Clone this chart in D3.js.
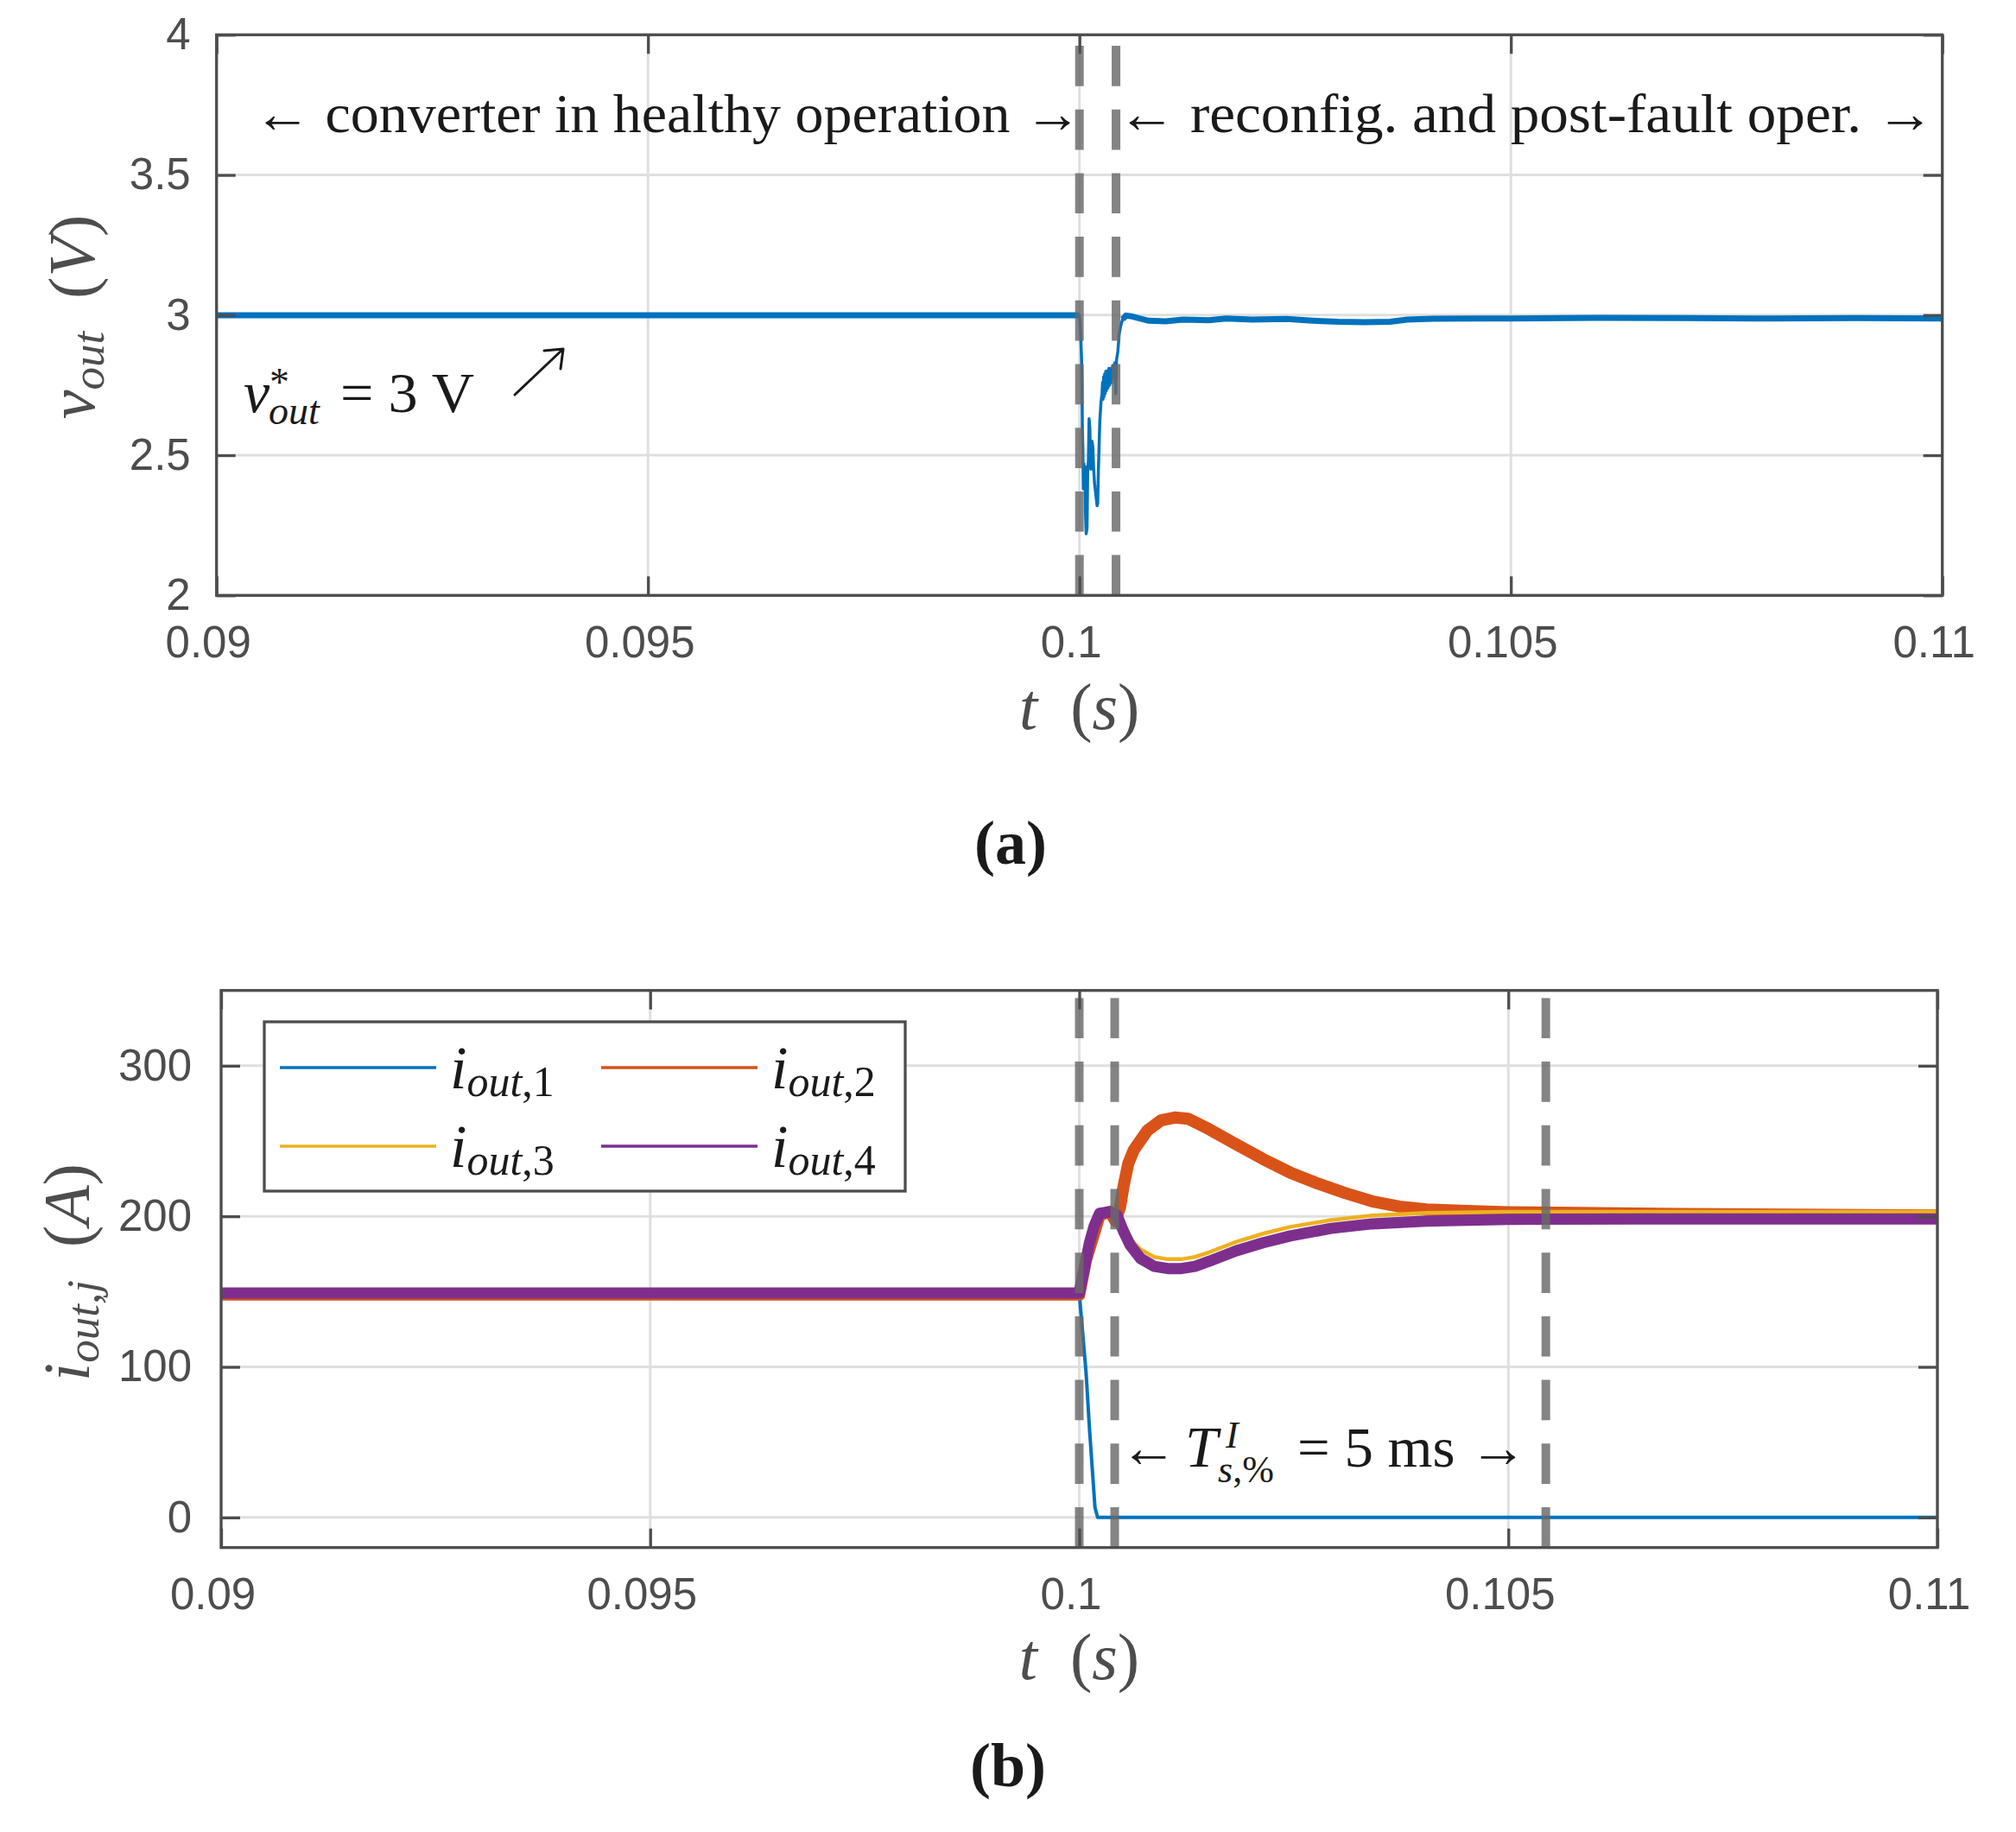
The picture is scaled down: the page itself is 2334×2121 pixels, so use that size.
<!DOCTYPE html>
<html>
<head>
<meta charset="utf-8">
<script src="https://cdn.jsdelivr.net/npm/d3@7/dist/d3.min.js"></script>
<style>
  body { margin: 0; background: #fff; }
  text { font-family: "Liberation Sans", Arial, sans-serif; }
  .tex { font-family: "Liberation Serif", "DejaVu Serif", serif; fill: #1a1a1a; }
</style>
</head>
<body>
<div id="canvas"></div>
<script>
// tick values
var xTicks = [0.09, 0.095, 0.1, 0.105, 0.11];
var vTicks = [2, 2.5, 3, 3.5, 4];
var iTicks = [0, 100, 200, 300];

// (a) output voltage, [t (s), v (V)]
var vOut = [
  [0.09, 2.999], [0.1, 2.999], [0.100010, 2.96], [0.100018, 2.90], [0.100025, 2.84],
  [0.100030, 2.75], [0.100034, 2.60], [0.100040, 2.52], [0.100045, 2.38], [0.100052, 2.47],
  [0.100058, 2.40], [0.100064, 2.46], [0.100070, 2.30], [0.100078, 2.22], [0.100088, 2.24],
  [0.100096, 2.45], [0.100104, 2.48], [0.100112, 2.63], [0.100120, 2.60], [0.100126, 2.52],
  [0.100132, 2.45], [0.100138, 2.50], [0.100145, 2.55], [0.100155, 2.53], [0.100165, 2.45],
  [0.100175, 2.40], [0.100190, 2.36], [0.100205, 2.32], [0.100212, 2.33], [0.100220, 2.45],
  [0.100236, 2.62], [0.100250, 2.69], [0.100262, 2.72], [0.100268, 2.76], [0.100274, 2.70],
  [0.100280, 2.78], [0.100286, 2.71], [0.100292, 2.79], [0.100298, 2.72], [0.100305, 2.80],
  [0.100312, 2.73], [0.100320, 2.80], [0.100330, 2.74], [0.100340, 2.81], [0.100350, 2.75],
  [0.100360, 2.81], [0.100372, 2.76], [0.100385, 2.82], [0.100400, 2.78], [0.100410, 2.83],
  [0.100420, 2.72], [0.100430, 2.84], [0.100445, 2.87], [0.100460, 2.93], [0.100477, 2.96],
  [0.100500, 2.985], [0.100540, 2.998], [0.1006, 2.996], [0.1008, 2.980], [0.1010, 2.978],
  [0.1012, 2.984], [0.1015, 2.982], [0.1017, 2.988], [0.1020, 2.984], [0.1024, 2.986],
  [0.1027, 2.980], [0.1030, 2.976], [0.1033, 2.975], [0.1036, 2.976], [0.1038, 2.984],
  [0.1041, 2.987], [0.1046, 2.988], [0.105, 2.988], [0.106, 2.990], [0.107, 2.989],
  [0.108, 2.988], [0.109, 2.989], [0.11, 2.988]
];

// (b) module output currents, [t (s), i (A)]
var iOut1 = [
  [0.09, 149], [0.1, 149], [0.100079, 96.5], [0.100119, 59], [0.100183, 6.7],
  [0.100214, 0], [0.11, 0]
];
var iOut2 = [
  [0.09, 148], [0.1, 148], [0.100079, 171], [0.100159, 186], [0.100238, 201],
  [0.100357, 203], [0.100420, 197], [0.100476, 206], [0.100516, 220], [0.100571, 235],
  [0.100635, 244], [0.100794, 257], [0.100952, 263.7], [0.101111, 265.6], [0.10127, 264.8],
  [0.101508, 258], [0.101825, 248], [0.102143, 238], [0.10246, 229], [0.102778, 221.8],
  [0.103095, 215.5], [0.103413, 210], [0.10373, 206.5], [0.104048, 204.6], [0.104524, 203.5],
  [0.105, 202.7], [0.107, 201.5], [0.11, 200.5]
];
var iOut3 = [
  [0.09, 149], [0.1, 149], [0.100079, 171], [0.100159, 186], [0.100238, 202],
  [0.100357, 203], [0.100437, 201], [0.100516, 193], [0.100595, 185], [0.100714, 178],
  [0.100873, 173], [0.101032, 171.5], [0.10119, 171.5], [0.101349, 173], [0.101508, 176],
  [0.101825, 183], [0.102143, 188.5], [0.10246, 193], [0.102937, 197.5], [0.103413, 200.5],
  [0.104048, 202.3], [0.105, 203], [0.11, 203]
];
var iOut4 = [
  [0.09, 149], [0.1, 149], [0.10004, 160], [0.100079, 171], [0.100119, 182.5],
  [0.100175, 193.8], [0.100238, 202], [0.100357, 203], [0.100437, 201], [0.100516, 190],
  [0.100595, 180.7], [0.100714, 172], [0.100873, 166.8], [0.101032, 165.3], [0.10119, 165.3],
  [0.101349, 166.8], [0.101508, 170], [0.101825, 177], [0.102143, 182.5], [0.10246, 187],
  [0.102937, 192], [0.103413, 195], [0.104048, 196.8], [0.105, 198], [0.106429, 198.2],
  [0.11, 198.2]
];

var seriesNames = ["1", "2", "3", "4"];
var seriesColors = ["#0072BD", "#D95319", "#EDB120", "#7E2F8E"];

// vertical dashed markers (s)
var markersA = [0.1, 0.100424];
var markersB = [0.1, 0.100413, 0.105437];

var W = 2334, H = 2121;
var axisColor = "#4d4d4d", gridColor = "#dfdfdf";

var svg = d3.select("div#canvas").append("svg")
  .attr("width", W)
  .attr("height", H);
svg.append("rect").attr("width", W).attr("height", H).attr("fill", "#fff");

function makePanel(box, ydom, yTicks) {
  var x = d3.scaleLinear().domain([0.09, 0.11]).range([box.left, box.right]);
  var y = d3.scaleLinear().domain(ydom).range([box.bottom, box.top]);
  var g = svg.append("g");

  // grid
  g.selectAll("line.gx").data(xTicks).enter().append("line")
    .attr("x1", x).attr("x2", x)
    .attr("y1", box.top).attr("y2", box.bottom)
    .attr("stroke", gridColor).attr("stroke-width", 3);
  g.selectAll("line.gy").data(yTicks).enter().append("line")
    .attr("x1", box.left).attr("x2", box.right)
    .attr("y1", y).attr("y2", y)
    .attr("stroke", gridColor).attr("stroke-width", 3);

  var data = g.append("g");
  var top = svg.append("g");
  return { x: x, y: y, box: box, data: data, top: top, yTicks: yTicks };
}

function finishPanel(p, markers) {
  var box = p.box, g = p.top;

  // dashed markers, drawn from the bottom up
  g.selectAll("line.mk").data(markers).enter().append("line")
    .attr("x1", p.x).attr("x2", p.x)
    .attr("y1", box.bottom).attr("y2", box.top)
    .attr("stroke", "#696969").attr("stroke-opacity", 0.82)
    .attr("stroke-width", 10).attr("stroke-dasharray", "46.7,27");

  var fmt = function(d) { return String(d); };

  // bottom axis with labels
  var ax = g.append("g").attr("transform", "translate(0," + box.bottom + ")")
    .call(d3.axisBottom(p.x).tickValues(xTicks).tickSizeInner(-22).tickSizeOuter(0)
      .tickPadding(35).tickFormat(fmt));
  // top ticks
  var axT = g.append("g").attr("transform", "translate(0," + box.top + ")")
    .call(d3.axisTop(p.x).tickValues(xTicks).tickSizeInner(-22).tickSizeOuter(0).tickFormat(""));
  // left axis with labels
  var ay = g.append("g").attr("transform", "translate(" + box.left + ",0)")
    .call(d3.axisLeft(p.y).tickValues(p.yTicks).tickSizeInner(-22).tickSizeOuter(0)
      .tickPadding(box.labelGap).tickFormat(fmt));
  // right ticks
  var ayR = g.append("g").attr("transform", "translate(" + box.right + ",0)")
    .call(d3.axisRight(p.y).tickValues(p.yTicks).tickSizeInner(-22).tickSizeOuter(0).tickFormat(""));

  [ax, axT, ay, ayR].forEach(function(a) {
    a.select(".domain").remove();
    a.selectAll(".tick line").attr("stroke", axisColor).attr("stroke-width", 3.3);
    a.selectAll("text").attr("fill", axisColor)
      .style("font-size", "51px")
      .style("font-family", "'Liberation Sans', Arial, sans-serif");
  });
  ax.selectAll("text").attr("dx", -10);

  g.append("rect")
    .attr("x", box.left).attr("y", box.top)
    .attr("width", box.right - box.left).attr("height", box.bottom - box.top)
    .attr("fill", "none").attr("stroke", axisColor).attr("stroke-width", 3.3);
}

// x label "t (s)"
function xLabel(cx, baseline) {
  var t = svg.append("text").attr("class", "tex")
    .attr("x", cx).attr("y", baseline).attr("text-anchor", "middle")
    .style("font-size", "76px").style("fill", axisColor);
  t.append("tspan").style("font-style", "italic").text("t");
  t.append("tspan").text("\u2002(");
  t.append("tspan").style("font-style", "italic").text("s");
  t.append("tspan").text(")");
}

// ---------- (a) ----------
var pa = makePanel({ left: 250.7, right: 2248.7, top: 40.3, bottom: 689.3, labelGap: 30 }, [2, 4], vTicks);

var lineA = d3.line().x(function(d) { return pa.x(d[0]); }).y(function(d) { return pa.y(d[1]); });
// switching ripple band in steady state
pa.data.append("path")
  .datum(vOut.filter(function(d) { return d[0] <= 0.1; }))
  .attr("d", lineA).attr("fill", "none").attr("stroke", seriesColors[0]).attr("stroke-width", 7);
pa.data.append("path")
  .datum(vOut.filter(function(d) { return d[0] >= 0.1005; }))
  .attr("d", lineA).attr("fill", "none").attr("stroke", seriesColors[0]).attr("stroke-width", 7);
pa.data.append("path")
  .datum(vOut)
  .attr("d", lineA).attr("fill", "none").attr("stroke", seriesColors[0])
  .attr("stroke-width", 3.5).attr("stroke-linejoin", "round");

finishPanel(pa, markersA);

svg.append("text").attr("class", "tex")
  .attr("x", 294).attr("y", 153)
  .attr("textLength", 958).attr("lengthAdjust", "spacingAndGlyphs")
  .style("font-size", "64px")
  .text("\u2190 converter in healthy operation \u2192");
svg.append("text").attr("class", "tex")
  .attr("x", 1294).attr("y", 153)
  .attr("textLength", 945).attr("lengthAdjust", "spacingAndGlyphs")
  .style("font-size", "64px")
  .text("\u2190 reconfig. and post-fault oper. \u2192");

// v*_out = 3 V  (one text, scripts stacked with tspans)
var vref = svg.append("text").attr("class", "tex").attr("x", 282).attr("y", 477)
  .style("font-size", "68px");
vref.append("tspan").style("font-style", "italic").text("v");
vref.append("tspan").attr("x", 312).attr("y", 458).style("font-size", "46px").text("*");
vref.append("tspan").attr("x", 311).attr("y", 491).style("font-size", "46px")
  .style("font-style", "italic").text("out");
vref.append("tspan").attr("x", 394).attr("y", 477).style("font-size", "66px")
  .attr("textLength", 155).attr("lengthAdjust", "spacingAndGlyphs").text("= 3 V");
// \nearrow
svg.append("path")
  .attr("d", "M596,457 L652,404 M630,406 L652,404 L649,427")
  .attr("fill", "none").attr("stroke", "#1a1a1a").attr("stroke-width", 3)
  .attr("stroke-linecap", "round").attr("stroke-linejoin", "round");

var yl = svg.append("text").attr("class", "tex")
  .attr("transform", "translate(109,367) rotate(-90)")
  .attr("text-anchor", "middle").style("font-size", "76px").style("fill", axisColor);
yl.append("tspan").style("font-style", "italic").text("v");
yl.append("tspan").attr("dy", 11).style("font-size", "53px").style("font-style", "italic").text("out");
yl.append("tspan").attr("dy", -11).text("\u2002(");
yl.append("tspan").style("font-style", "italic").text("V");
yl.append("tspan").text(")");

xLabel(1249.7, 844);

svg.append("text").attr("class", "tex").attr("x", 1170).attr("y", 1000)
  .attr("text-anchor", "middle").style("font-size", "72px").style("font-weight", "bold")
  .text("(a)");

// ---------- (b) ----------
var pb = makePanel({ left: 256, right: 2243, top: 1146.7, bottom: 1791.7, labelGap: 34 }, [-20, 350], iTicks);

var lineB = d3.line().x(function(d) { return pb.x(d[0]); }).y(function(d) { return pb.y(d[1]); });
var currents = [iOut1, iOut2, iOut3, iOut4];
var widths = [4, 14, 4.5, 13];
currents.forEach(function(s, k) {
  pb.data.append("path")
    .datum(s)
    .attr("d", lineB).attr("fill", "none")
    .attr("stroke", seriesColors[k]).attr("stroke-width", widths[k])
    .attr("stroke-linejoin", "round");
});

finishPanel(pb, markersB);

// legend
var lg = svg.append("g");
lg.append("rect")
  .attr("x", 306).attr("y", 1183).attr("width", 742).attr("height", 196)
  .attr("fill", "#fff").attr("stroke", axisColor).attr("stroke-width", 3.3);
seriesNames.forEach(function(n, k) {
  var col = k % 2, row = Math.floor(k / 2);
  var x0 = col === 0 ? 324 : 696;
  var yy = row === 0 ? 1236 : 1327;
  lg.append("line")
    .attr("x1", x0).attr("x2", x0 + 181).attr("y1", yy).attr("y2", yy)
    .attr("stroke", seriesColors[k]).attr("stroke-width", 3.5);
  var t = lg.append("text").attr("class", "tex")
    .attr("x", x0 + 197).attr("y", yy + 24)
    .style("font-size", "70px");
  t.append("tspan").style("font-style", "italic").text("i");
  t.append("tspan").attr("dy", 9).style("font-size", "50px").style("font-style", "italic").text("out");
  t.append("tspan").style("font-size", "50px").text("," + n);
});

// T^I_{s,%} = 5 ms annotation (one text, scripts stacked with tspans)
var ts = svg.append("text").attr("class", "tex").attr("x", 1297).attr("y", 1698)
  .style("font-size", "66px");
ts.append("tspan").text("\u2190");
ts.append("tspan").attr("x", 1372).attr("y", 1698).style("font-size", "68px")
  .style("font-style", "italic").text("T");
ts.append("tspan").attr("x", 1419).attr("y", 1676).style("font-size", "44px")
  .style("font-style", "italic").text("I");
ts.append("tspan").attr("x", 1410).attr("y", 1716).style("font-size", "44px")
  .style("font-style", "italic").text("s");
ts.append("tspan").style("font-size", "44px").text(",%");
ts.append("tspan").attr("x", 1502).attr("y", 1698)
  .attr("textLength", 266).attr("lengthAdjust", "spacingAndGlyphs").text("= 5 ms \u2192");

var yl2 = svg.append("text").attr("class", "tex")
  .attr("transform", "translate(103,1473) rotate(-90)")
  .attr("text-anchor", "middle").style("font-size", "76px").style("fill", axisColor);
yl2.append("tspan").style("font-style", "italic").text("i");
yl2.append("tspan").attr("dy", 11).style("font-size", "53px").style("font-style", "italic").text("out,j");
yl2.append("tspan").attr("dy", -11).text("\u2002(");
yl2.append("tspan").style("font-style", "italic").text("A");
yl2.append("tspan").text(")");

xLabel(1249.5, 1944);

svg.append("text").attr("class", "tex").attr("x", 1167).attr("y", 2068)
  .attr("text-anchor", "middle").style("font-size", "72px").style("font-weight", "bold")
  .text("(b)");
</script>
</body>
</html>
